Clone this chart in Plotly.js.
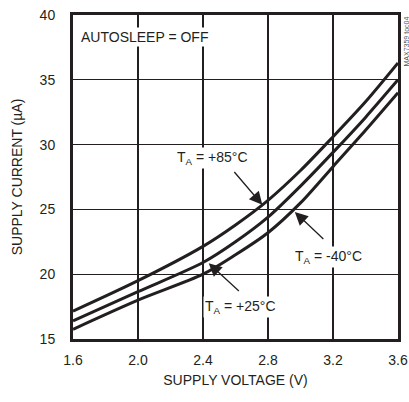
<!DOCTYPE html>
<html>
<head>
<meta charset="utf-8">
<script src="https://cdn.plot.ly/plotly-3.0.1.min.js"></script>
<style>html,body{margin:0;padding:0;background:#fff;}#chart{width:409px;height:402px;}</style>
</head>
<body>
<div id="chart"></div>
<script>
// Supply voltage (V)
const voltage = [1.6, 2.0, 2.4, 2.6, 2.8, 3.0, 3.2, 3.4, 3.6];
// Supply current (uA) per ambient temperature
const current85 = [17.15, 19.5, 22.15, 23.8, 25.7, 28.0, 30.6, 33.3, 36.3];
const current25 = [16.4, 18.65, 20.9, 22.5, 24.4, 26.8, 29.4, 32.1, 35.0];
const currentM40 = [15.75, 18.0, 20.0, 21.5, 23.2, 25.5, 28.3, 31.1, 34.0];
const xTicks = [1.6, 2.0, 2.4, 2.8, 3.2, 3.6];
const xTickLabels = ['1.6', '2.0', '2.4', '2.8', '3.2', '3.6'];
const yTicks = [15, 20, 25, 30, 35, 40];

const ink = '#231f20';
const font = 'Liberation Sans Narrow, Arial Narrow, Liberation Sans, sans-serif';

const lineStyle = {color: ink, width: 3, shape: 'spline', smoothing: 0.8};
const traces = [
  {x: voltage, y: current85, mode: 'lines', line: lineStyle, name: '+85°C', hoverinfo: 'skip'},
  {x: voltage, y: current25, mode: 'lines', line: lineStyle, name: '+25°C', hoverinfo: 'skip'},
  {x: voltage, y: currentM40, mode: 'lines', line: lineStyle, name: '-40°C', hoverinfo: 'skip'}
];

function arrow(tipX, tipY, tailX, tailY) {
  return {x: tipX, y: tipY, ax: tailX, ay: tailY, axref: 'x', ayref: 'y', xref: 'x', yref: 'y',
          text: '', showarrow: true, arrowhead: 2, arrowsize: 2, arrowwidth: 1.3, arrowcolor: ink};
}
function label(x, y, text, anchor) {
  return {x: x, y: y, xref: 'x', yref: 'y', text: text, showarrow: false, xanchor: anchor || 'center',
          yanchor: 'middle', bgcolor: '#ffffff', borderpad: 1, font: {family: font, size: 14, color: ink}};
}

const layout = {
  width: 409, height: 402,
  margin: {l: 73, r: 11, t: 15, b: 63},
  paper_bgcolor: '#ffffff', plot_bgcolor: '#ffffff',
  showlegend: false,
  font: {family: font, size: 14, color: ink},
  xaxis: {
    range: [1.6, 3.6], tickvals: xTicks, ticktext: xTickLabels,
    showgrid: true, gridcolor: ink, gridwidth: 1.3,
    showline: true, mirror: true, linecolor: ink, linewidth: 3,
    ticks: 'outside', ticklen: 6, tickcolor: 'rgba(0,0,0,0)', zeroline: false,
    tickfont: {family: font, size: 14, color: ink},
    title: {text: 'SUPPLY VOLTAGE (V)', standoff: 9, font: {family: font, size: 14, color: ink}}
  },
  yaxis: {
    range: [15, 40], tickvals: yTicks,
    showgrid: true, gridcolor: ink, gridwidth: 1.3,
    showline: true, mirror: true, linecolor: ink, linewidth: 3,
    ticks: 'outside', ticklen: 12, tickcolor: 'rgba(0,0,0,0)', zeroline: false,
    tickfont: {family: font, size: 14, color: ink},
    title: {text: 'SUPPLY CURRENT (µA)', standoff: 14, font: {family: font, size: 14, color: ink}}
  },
  annotations: [
    label(1.635, 38.3, 'AUTOSLEEP = OFF', 'left'),
    label(2.46, 28.95, 'T<sub>A</sub> = +85°C'),
    arrow(2.765, 25.35, 2.585, 28.0),
    label(3.17, 21.3, 'T<sub>A</sub> = -40°C'),
    arrow(2.965, 24.8, 3.15, 22.6),
    label(2.63, 17.5, 'T<sub>A</sub> = +25°C'),
    arrow(2.435, 20.85, 2.63, 18.6),
    {xref: 'paper', yref: 'paper', x: 1.0, y: 1.0, xanchor: 'left', yanchor: 'top', xshift: 2,
     text: 'MAX7359 toc04', textangle: -90, showarrow: false,
     font: {family: font, size: 7, color: '#555555'}}
  ]
};

Plotly.newPlot('chart', traces, layout, {staticPlot: true, displayModeBar: false});
</script>
</body>
</html>
